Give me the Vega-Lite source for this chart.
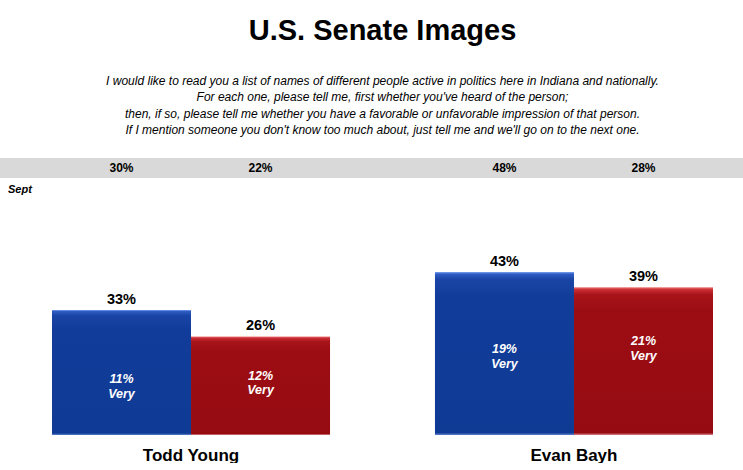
{
  "$schema": "https://vega.github.io/schema/vega-lite/v6.json",
  "padding": {"left": 0, "top": 17, "right": 0, "bottom": 0},
  "background": "white",
  "config": {
    "font": "Liberation Sans",
    "view": {"stroke": null},
    "concat": {"spacing": 6}
  },
  "title": {
    "text": "U.S. Senate Images",
    "subtitle": [
      "I would like to read you a list of names of different people active in politics here in Indiana and nationally.",
      "For each one, please tell me, first whether you've heard of the person;",
      "then, if so, please tell me whether you have a favorable or unfavorable impression of that person.",
      "If I mention someone you don't know too much about, just tell me and we'll go on to the next one."
    ],
    "font": "Liberation Sans",
    "fontSize": 29,
    "fontWeight": "bold",
    "color": "black",
    "subtitleFont": "Liberation Sans",
    "subtitleFontSize": 12,
    "subtitleFontStyle": "italic",
    "subtitleColor": "black",
    "subtitleLineHeight": 16.3,
    "subtitlePadding": 30,
    "anchor": "middle",
    "dx": 11,
    "offset": 22
  },
  "data": {
    "values": [
      {"candidate": "Todd Young", "party": "Favorable", "value": 33, "very": 11, "header": 30},
      {"candidate": "Todd Young", "party": "Unfavorable", "value": 26, "very": 12, "header": 22},
      {"candidate": "Evan Bayh", "party": "Favorable", "value": 43, "very": 19, "header": 48},
      {"candidate": "Evan Bayh", "party": "Unfavorable", "value": 39, "very": 21, "header": 28}
    ]
  },
  "transform": [
    {"calculate": "datum.value + '%'", "as": "valueLabel"},
    {"calculate": "datum.header + '%'", "as": "headerLabel"},
    {"calculate": "[datum.very + '%', 'Very']", "as": "veryLabel"}
  ],
  "vconcat": [
    {
      "width": 743,
      "height": 20,
      "view": {"fill": "#d9d9d9", "stroke": null},
      "mark": {"type": "text", "fontSize": 12, "fontWeight": "bold", "color": "black"},
      "encoding": {
        "x": {
          "field": "candidate", "type": "nominal", "sort": ["Todd Young", "Evan Bayh"],
          "scale": {"range": [22, 743], "paddingInner": 0.274, "paddingOuter": 0.0783},
          "axis": null
        },
        "xOffset": {
          "field": "party", "type": "nominal", "sort": ["Favorable", "Unfavorable"],
          "scale": {"paddingInner": 0, "paddingOuter": 0}
        },
        "text": {"field": "headerLabel"},
        "y": {"value": 10}
      }
    },
    {
      "width": 743,
      "height": 244,
      "title": {
        "text": "Sept",
        "anchor": "start",
        "frame": "group",
        "fontSize": 11,
        "fontWeight": "bold",
        "fontStyle": "italic",
        "color": "black",
        "dx": 8,
        "dy": 7,
        "offset": 3
      },
      "encoding": {
        "x": {
          "field": "candidate", "type": "nominal", "sort": ["Todd Young", "Evan Bayh"],
          "scale": {"range": [22, 743], "paddingInner": 0.274, "paddingOuter": 0.0783},
          "axis": {
            "title": null, "orient": "bottom", "domain": false, "ticks": false,
            "labelFontSize": 17, "labelFontWeight": "bold", "labelColor": "black",
            "labelPadding": 12, "labelAngle": 0
          }
        },
        "xOffset": {
          "field": "party", "type": "nominal", "sort": ["Favorable", "Unfavorable"],
          "scale": {"paddingInner": 0, "paddingOuter": 0}
        },
        "y": {
          "field": "value", "type": "quantitative",
          "scale": {"domain": [0, 64.4], "nice": false, "zero": true},
          "axis": null
        }
      },
      "layer": [
        {
          "mark": {"type": "bar", "stroke": null},
          "encoding": {
            "fill": {
              "condition": {
                "test": "datum.party === 'Favorable'",
                "value": {
                  "gradient": "linear", "x1": 0, "y1": 0, "x2": 0, "y2": 1,
                  "stops": [
                    {"offset": 0, "color": "#7aa0ee"},
                    {"offset": 0.012, "color": "#2f5cc4"},
                    {"offset": 0.045, "color": "#1a45a6"},
                    {"offset": 0.15, "color": "#113c9a"},
                    {"offset": 0.985, "color": "#0f3a94"},
                    {"offset": 1, "color": "#5a7fcf"}
                  ]
                }
              },
              "value": {
                "gradient": "linear", "x1": 0, "y1": 0, "x2": 0, "y2": 1,
                "stops": [
                  {"offset": 0, "color": "#f08080"},
                  {"offset": 0.015, "color": "#cc3035"},
                  {"offset": 0.05, "color": "#a8141a"},
                  {"offset": 0.15, "color": "#9c0d13"},
                  {"offset": 0.985, "color": "#960b12"},
                  {"offset": 1, "color": "#d98a8c"}
                ]
              }
            }
          }
        },
        {
          "mark": {"type": "text", "fontSize": 14.5, "fontWeight": "bold", "color": "black", "baseline": "alphabetic", "dy": -6},
          "encoding": {
            "text": {"field": "valueLabel"}
          }
        },
        {
          "mark": {"type": "text", "fontSize": 12.5, "fontWeight": "bold", "fontStyle": "italic", "color": "white", "baseline": "middle", "lineHeight": 14.5, "dy": -14},
          "encoding": {
            "y": {"field": "very", "type": "quantitative"},
            "text": {"field": "veryLabel"}
          }
        }
      ]
    }
  ]
}
